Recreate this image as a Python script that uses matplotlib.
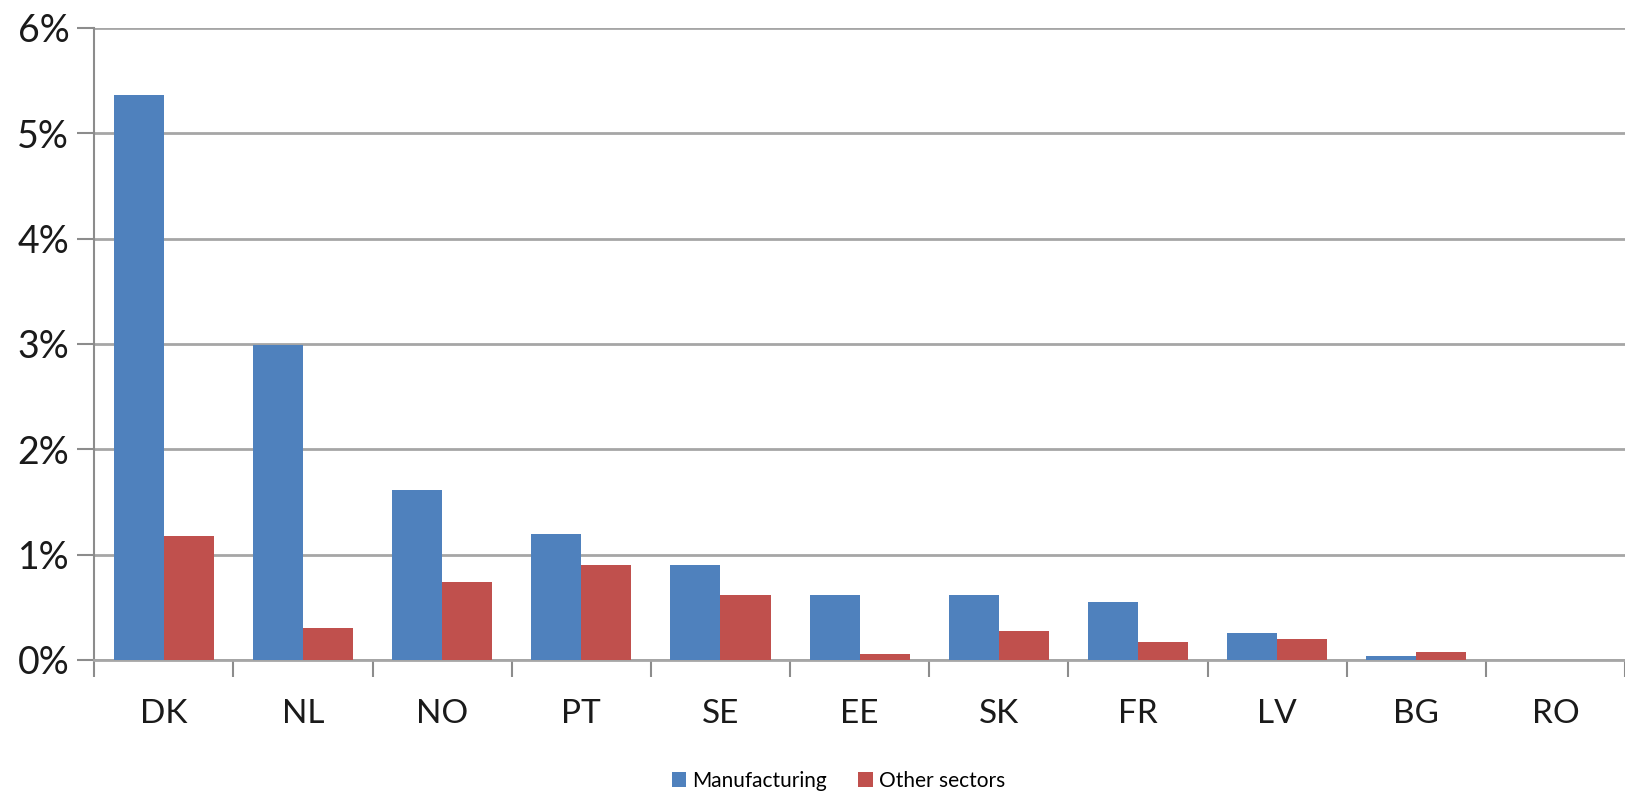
import numpy as np
import matplotlib.pyplot as plt
from matplotlib.ticker import FuncFormatter

countries = ["DK", "NL", "NO", "PT", "SE", "EE", "SK", "FR", "LV", "BG", "RO"]
manufacturing = [5.36, 2.99, 1.61, 1.20, 0.90, 0.62, 0.62, 0.55, 0.26, 0.04, 0.0]
other_sectors = [1.18, 0.30, 0.74, 0.90, 0.62, 0.06, 0.28, 0.17, 0.20, 0.08, 0.0]

plt.rcParams['font.family'] = ['Lato', 'DejaVu Sans']

fig = plt.figure(figsize=(16.25, 8), dpi=100)
ax = fig.add_axes([0.058, 0.175, 0.942, 0.79])

x = np.arange(len(countries))
w = 0.36
ax.bar(x - w / 2, manufacturing, w, color="#4F81BD", label="Manufacturing", zorder=3)
ax.bar(x + w / 2, other_sectors, w, color="#C0504D", label="Other sectors", zorder=3)

ax.set_xlim(-0.5, len(countries) - 0.5)
ax.set_ylim(0, 6)
ax.set_yticks(range(0, 7))
ax.yaxis.set_major_formatter(FuncFormatter(lambda v, p: f"{int(v)}%"))
ax.grid(axis="y", color="#a6a6a6", linewidth=2, zorder=0)

# category labels centred, tick marks at the boundaries
ax.set_xticks(np.arange(-0.5, len(countries), 1.0))
ax.set_xticklabels([])
ax.set_xticks(x, minor=True)
ax.set_xticklabels(countries, minor=True)
ax.tick_params(axis="x", which="major", length=12, width=1.5, color="#8c8c8c", direction="out")
ax.tick_params(axis="x", which="minor", length=0, pad=28, labelsize=24, labelcolor="#1a1a1a")
ax.tick_params(axis="y", length=12, width=1.5, color="#8c8c8c", labelsize=27, pad=6,
               labelcolor="#1a1a1a")

for s in ["top", "right"]:
    ax.spines[s].set_visible(False)
ax.spines["left"].set_color("#8c8c8c")
ax.spines["left"].set_linewidth(1.5)
ax.spines["bottom"].set_color("#a6a6a6")
ax.spines["bottom"].set_linewidth(2)

fig.legend(loc="lower center", bbox_to_anchor=(0.516, -0.012), ncol=2, frameon=False,
           fontsize=15, handlelength=0.7, handleheight=0.7, handletextpad=0.3,
           columnspacing=1.5)

fig.savefig("out.png", dpi=100)
